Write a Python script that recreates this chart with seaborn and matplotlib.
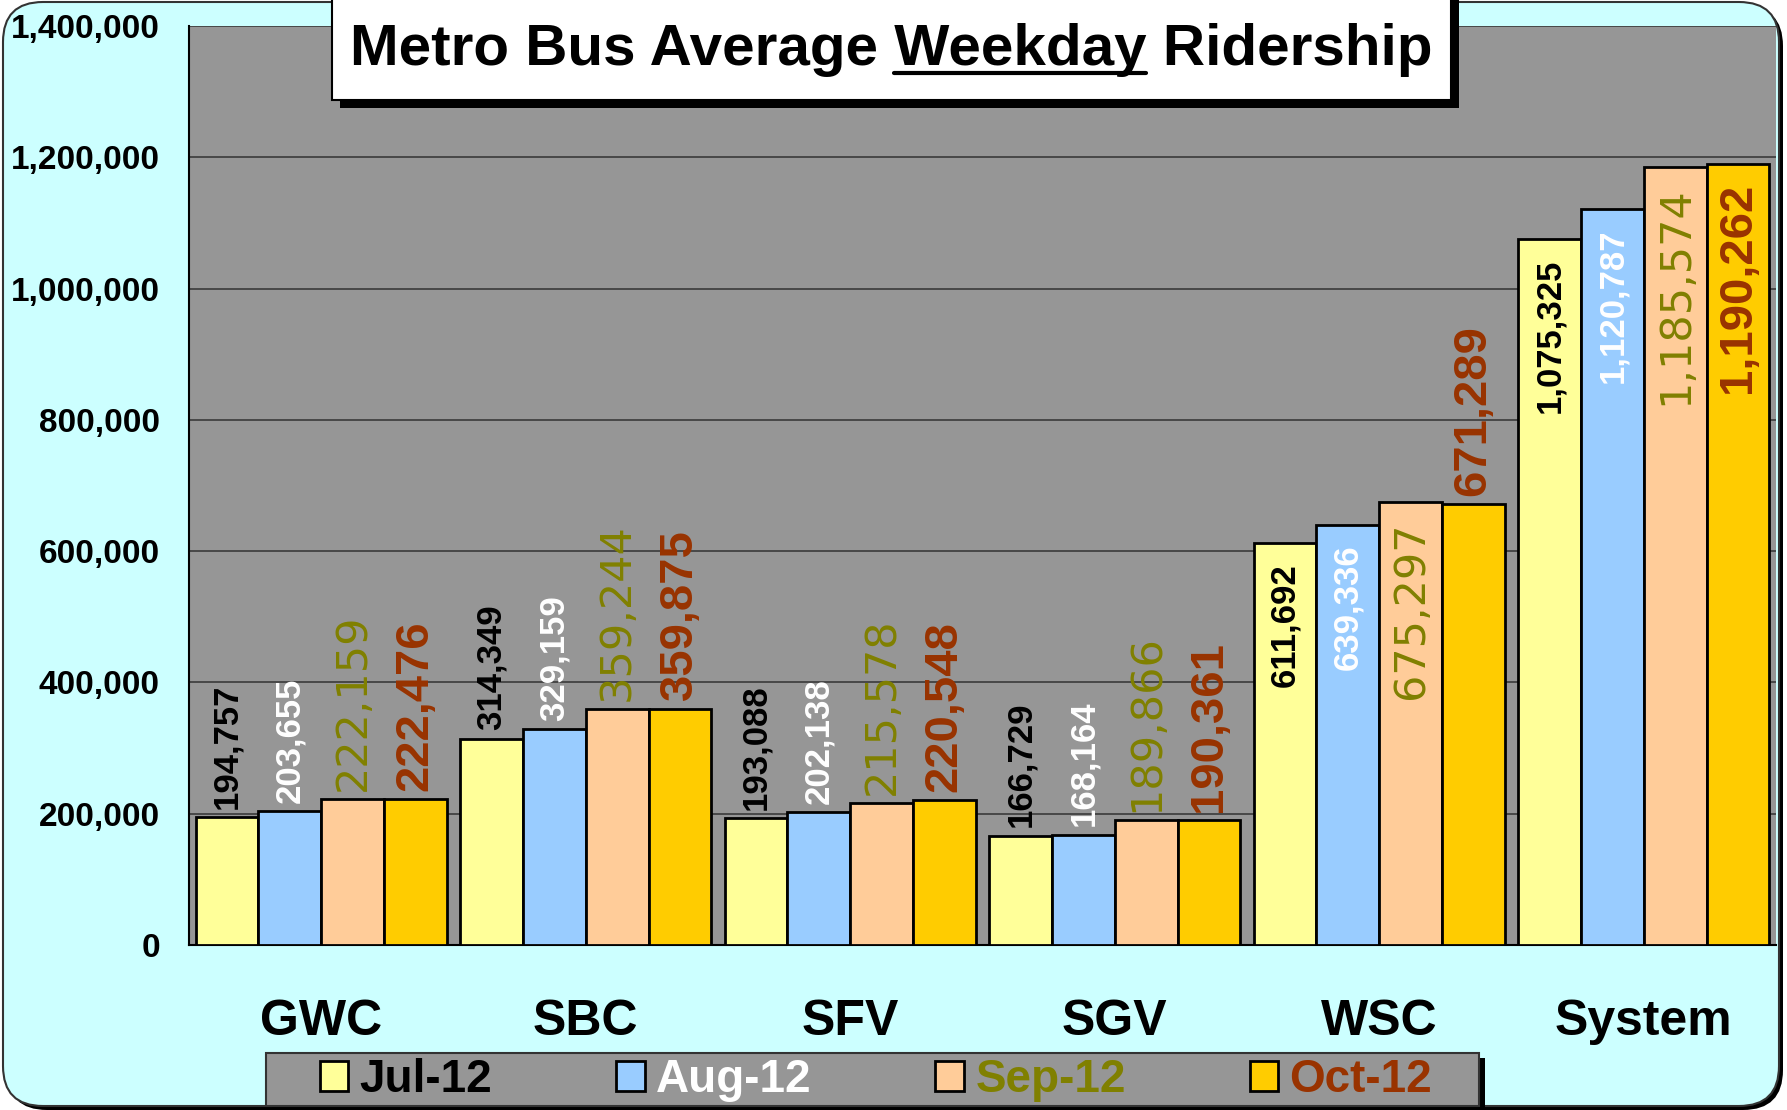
import pandas as pd
import matplotlib
matplotlib.use("Agg")
import matplotlib.pyplot as plt
import matplotlib.patches as mpatches
import matplotlib.transforms as mtransforms
import seaborn as sns

# =========================
# DATA
# =========================
regions = ["GWC", "SBC", "SFV", "SGV", "WSC", "System"]
months = ["Jul-12", "Aug-12", "Sep-12", "Oct-12"]
jul = [194757, 314349, 193088, 166729, 611692, 1075325]
aug = [203655, 329159, 202138, 168164, 639336, 1120787]
sep = [222159, 359244, 215578, 189866, 675297, 1185574]
octo = [222476, 359875, 220548, 190361, 671289, 1190262]
# where the value label sits: above the bar ("out") or inside its top ("in")
jul_place = ["out", "out", "out", "out", "in", "in"]
aug_place = ["out", "out", "out", "out", "in", "in"]
sep_place = ["out", "out", "out", "out", "in", "in"]
oct_place = ["out", "out", "out", "out", "out", "in"]
y_ticks = [0, 200000, 400000, 600000, 800000, 1000000, 1200000, 1400000]
title_left = "Metro Bus Average "
title_mid = "Weekday"
title_right = " Ridership"

bar_colors = ["#FFFF99", "#99CCFF", "#FFCC99", "#FFCC00"]
text_colors = ["black", "white", "#808000", "#993300"]

df = pd.DataFrame({
    "Region": regions * 4,
    "Month": [m for m in months for _ in regions],
    "Riders": jul + aug + sep + octo,
})
places = [jul_place, aug_place, sep_place, oct_place]

sns.set_style("white")
plt.rcParams["font.family"] = ["Liberation Sans", "DejaVu Sans"]
plt.rcParams["text.color"] = "black"
plt.rcParams["xtick.color"] = "black"
plt.rcParams["ytick.color"] = "black"

W, H = 1787, 1110
fig = plt.figure(figsize=(W / 100, H / 100), dpi=100)
fig.patch.set_facecolor("white")
pix = mtransforms.IdentityTransform()

# rounded cyan background with dark shadow
fig.patches.append(mpatches.FancyBboxPatch((7, 0), 1776, 1104,
    boxstyle="round,pad=0,rounding_size=40", facecolor="black",
    edgecolor="none", transform=pix, zorder=-2))
fig.patches.append(mpatches.FancyBboxPatch((3, 4), 1776, 1104,
    boxstyle="round,pad=0,rounding_size=40", facecolor="#CCFFFF",
    edgecolor="#333333", linewidth=1.5, transform=pix, zorder=-1))

ax = fig.add_axes([189 / W, 1 - 945 / H, 1587 / W, (945 - 26) / H])
ax.set_zorder(1)
sns.barplot(data=df, x="Region", y="Riders", hue="Month", palette=bar_colors,
            saturation=1, width=0.95, gap=0, edgecolor="black", linewidth=2,
            legend=False, ax=ax, zorder=3)
ax.set_facecolor("#969696")
ax.set_xlim(-0.5, 5.5)
ax.set_ylim(0, 1400000)
ax.set_yticks(y_ticks)
ax.set_yticklabels([f"{v:,}" for v in y_ticks], fontsize=24, fontweight="bold",
                   color="black")
ax.yaxis.grid(True, color="#3a3a3a", linewidth=1.2)
ax.set_axisbelow(True)
ax.set_xlabel("")
ax.set_ylabel("")
ax.set_xticks(range(len(regions)))
ax.set_xticklabels(regions, fontsize=36, fontweight="bold", color="black")
ax.set_xticks([i - 0.5 for i in range(len(regions) + 1)], minor=True)
ax.tick_params(axis="x", which="major", length=0, pad=39)
ax.tick_params(axis="x", which="minor", length=10, width=1, color="black",
               direction="out")
ax.tick_params(axis="y", length=7, width=1, color="black", direction="out",
               pad=14)
for side in ["top", "right"]:
    ax.spines[side].set_visible(False)
for side in ["left", "bottom"]:
    ax.spines[side].set_color("black")
    ax.spines[side].set_linewidth(1.5)

# value labels
label_fonts = [
    dict(fontsize=25, fontweight="bold"),
    dict(fontsize=25, fontweight="bold"),
    dict(fontsize=31, fontweight="normal", family="DejaVu Sans"),
    dict(fontsize=34, fontweight="bold"),
]
for cont, color, font, place in zip(ax.containers, text_colors, label_fonts, places):
    for bar, where in zip(cont, place):
        x = bar.get_x() + bar.get_width() / 2
        h = bar.get_height()
        if where == "out":
            off, va = 6, "bottom"
        else:
            off, va = -14, "top"
        ax.annotate(f"{int(round(h)):,}", (x, h), xytext=(0, off),
                    textcoords="offset points", rotation=90, ha="center",
                    va=va, color=color, zorder=5, **font)

# title box with shadow
fig.patches.append(mpatches.Rectangle((340, 1002), 1119, 115, facecolor="black",
                                      edgecolor="none", transform=pix, zorder=4))
fig.patches.append(mpatches.Rectangle((332, 1010), 1119, 110, facecolor="white",
                                      edgecolor="black", linewidth=1.5,
                                      transform=pix, zorder=4.1))
title_font = dict(fontsize=42, fontweight="bold", color="black")
full_title = title_left + title_mid + title_right
t = fig.text(891 / W, 1 - 50 / H, full_title, ha="center", va="center",
             zorder=5, **title_font)
renderer = fig.canvas.get_renderer()
bb_full = t.get_window_extent(renderer)
probe = fig.text(0, 0, title_left + title_mid, **title_font)
w_upto = probe.get_window_extent(renderer).width
probe.set_text(title_mid)
w_mid = probe.get_window_extent(renderer).width
probe.remove()
x_end = bb_full.x0 + w_upto
x_start = x_end - w_mid
y_line = bb_full.y0 + 4
fig.lines.append(plt.Line2D([x_start, x_end], [y_line, y_line], color="black",
                            linewidth=3, transform=pix, zorder=5))

# legend box with shadow
fig.patches.append(mpatches.Rectangle((272, -2), 1213, 54, facecolor="black",
                                      edgecolor="none", transform=pix, zorder=4))
fig.patches.append(mpatches.Rectangle((266, 4), 1213, 53, facecolor="#969696",
                                      edgecolor="#333333", linewidth=1.5,
                                      transform=pix, zorder=4.1))
handles = [mpatches.Patch(facecolor=c, edgecolor="black", linewidth=2)
           for c in bar_colors]
leg = fig.legend(handles, months, loc="center", ncol=4,
                 bbox_to_anchor=(876 / W, 30 / H),
                 frameon=False, handlelength=0.62, handleheight=0.62,
                 handletextpad=0.25, columnspacing=2.7, borderaxespad=0,
                 prop=dict(family="Liberation Sans", weight="bold", size=33))
leg.set_zorder(6)
for txt, c in zip(leg.get_texts(), text_colors):
    txt.set_color(c)

plt.savefig("out.png", dpi=100)
